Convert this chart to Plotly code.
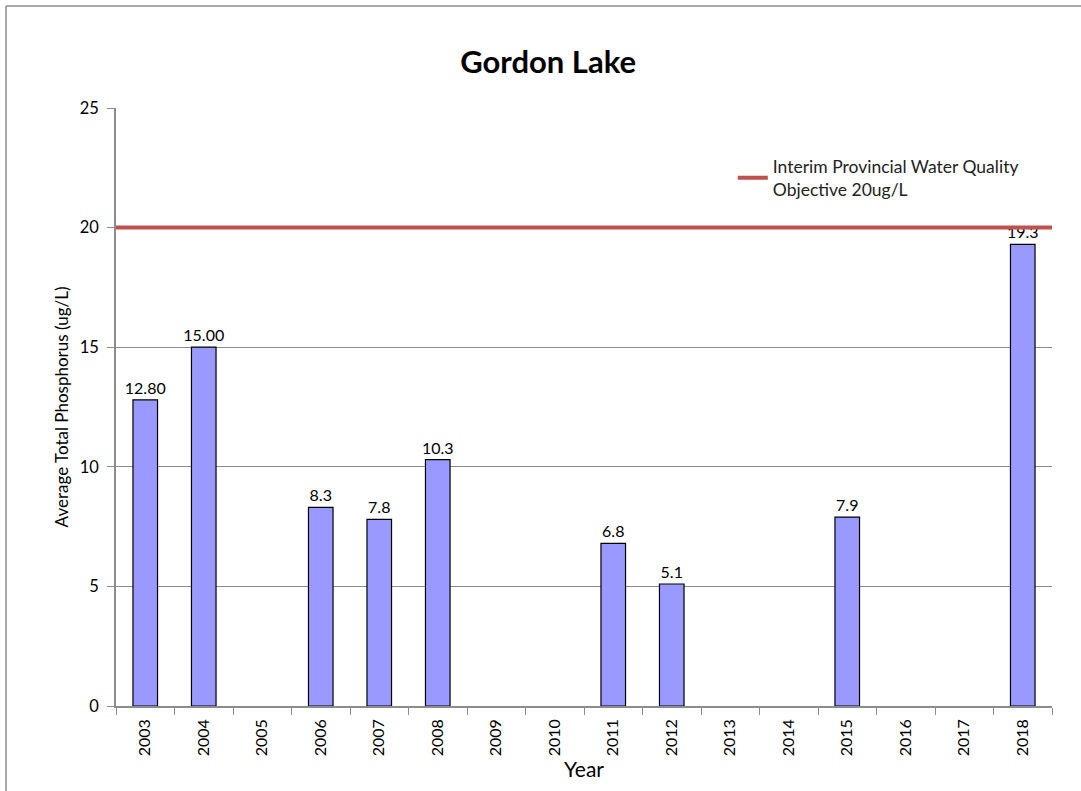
import plotly.graph_objects as go

years = ["2003", "2004", "2005", "2006", "2007", "2008", "2009", "2010",
         "2011", "2012", "2013", "2014", "2015", "2016", "2017", "2018"]
phosphorus = [12.80, 15.00, None, 8.3, 7.8, 10.3, None, None,
              6.8, 5.1, None, None, 7.9, None, None, 19.3]
labels = ["12.80", "15.00", "", "8.3", "7.8", "10.3", "", "",
          "6.8", "5.1", "", "", "7.9", "", "", "19.3"]
objective = 20
objective_name = "Interim Provincial Water Quality<br>Objective 20ug/L"
y_ticks = [0, 5, 10, 15, 20, 25]

FONT = "Lato, 'Open Sans', sans-serif"

fig = go.Figure()
fig.add_trace(go.Bar(
    x=years, y=phosphorus, text=labels, textposition="outside",
    constraintext="none",
    textfont=dict(size=16, color="black", family=FONT),
    marker=dict(color="#9999FF", line=dict(color="black", width=1.2)),
    width=0.42, showlegend=False, cliponaxis=False,
))

fig.add_shape(type="line", xref="paper", x0=0, x1=1, yref="y", y0=objective, y1=objective,
              line=dict(color="#C0504D", width=4), showlegend=True, name=objective_name,
              layer="above")

# outer frame (top and left edges)
fig.add_shape(type="line", xref="paper", yref="paper", x0=-0.1175, x1=1.04, y0=1.1706, y1=1.1706,
              line=dict(color="#8c8c8c", width=1.5))
fig.add_shape(type="line", xref="paper", yref="paper", x0=-0.1175, x1=-0.1175, y0=1.1706, y1=-0.15,
              line=dict(color="#8c8c8c", width=1.5))

fig.update_layout(
    width=1081, height=791,
    margin=dict(l=116, r=29, t=108, b=85),
    plot_bgcolor="white", paper_bgcolor="white",
    font=dict(family=FONT, color="black"),
    title=dict(text="<b>Gordon Lake</b>", x=0.507, xanchor="center", y=0.921, yanchor="middle",
               font=dict(size=31, family=FONT, color="black")),
    legend=dict(x=0.659, y=0.883, xanchor="left", yanchor="middle",
                font=dict(size=17.5, family=FONT, color="#222"), bgcolor="rgba(0,0,0,0)"),
)
fig.update_xaxes(
    type="category", tickangle=-90, tickson="boundaries", ticks="outside", ticklen=7,
    tickcolor="#8c8c8c", showline=True, linecolor="#8c8c8c", linewidth=1.5,
    tickfont=dict(size=16, family=FONT), showgrid=False, ticklabelstandoff=5,
    title=dict(text="Year", font=dict(size=21, family=FONT), standoff=6),
)
fig.update_yaxes(
    range=[0, 25], tickvals=y_ticks, ticks="outside", ticklen=7, tickcolor="#8c8c8c",
    showline=True, linecolor="#8c8c8c", linewidth=1.5, showgrid=True, gridcolor="#8c8c8c",
    gridwidth=1.2, zeroline=False, tickfont=dict(size=16.5, family=FONT), ticklabelstandoff=5,
    title=dict(text="Average Total Phosphorus (ug/L)", font=dict(size=17, family=FONT), standoff=7),
)

fig.write_html("out.html", config={"displayModeBar": False},
               post_script="document.body.style.margin='0';")
